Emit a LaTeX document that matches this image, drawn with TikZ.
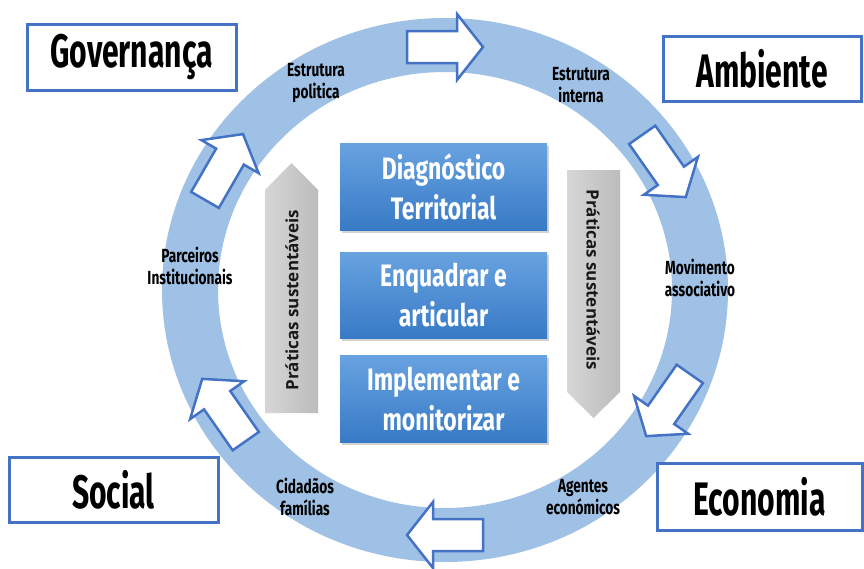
\documentclass[tikz,border=0pt]{standalone}
\usepackage{fontspec}
\setmainfont{Open Sans}
\newfontfamily\agencybig[FakeStretch=0.64]{Fira Sans}
\newfontfamily\agencymid[FakeStretch=0.74]{Fira Sans}
\newfontfamily\agencysmall[FakeStretch=0.72]{Fira Sans}
\newfontfamily\opensans{Open Sans}
\usetikzlibrary{shadows}
\definecolor{ringblue}{RGB}{160,193,230}
\definecolor{edgeblue}{RGB}{68,114,196}
\definecolor{steptop}{RGB}{104,163,224}
\definecolor{stepbot}{RGB}{56,122,198}
\definecolor{grayL}{RGB}{214,214,214}
\definecolor{grayR}{RGB}{188,188,188}
\tikzset{
 catbox/.style={draw=edgeblue, line width=3pt, fill=white, inner sep=0pt,
   font=\agencybig\bfseries\fontsize{47}{47}\selectfont},
 stepbox/.style={top color=steptop, bottom color=stepbot, draw=none, minimum width=207pt,
   text=white, align=center, inner sep=0pt,
   font=\agencymid\bfseries\fontsize{31}{40}\selectfont,
   drop shadow={opacity=0.35, shadow xshift=1.5pt, shadow yshift=-2.5pt}},
 ringlabel/.style={align=center, inner sep=0pt, font=\agencysmall\bfseries\fontsize{19}{22}\selectfont},
 flowarrow/.style={draw=edgeblue, line width=2.5pt, fill=white, line join=miter},
 grayarrow/.style={left color=grayL, right color=grayR, draw=none},
 graytext/.style={inner sep=0pt, text=black!90, font=\opensans\bfseries\fontsize{17}{17}\selectfont},
}
\newcommand\flowarr[2]{\draw[flowarrow, shift={#1}, rotate=#2]
  (-38,-16) -- (12,-16) -- (12,-33) -- (38,0) -- (12,33) -- (12,16) -- (-38,16) -- cycle;}
\begin{document}
\begin{tikzpicture}[x=1pt,y=-1pt]
\useasboundingbox (0,0) rectangle (864,568);
\fill[white] (0,0) rectangle (864,568);
% ring
\fill[ringblue, even odd rule] (445,290) ellipse [x radius=283pt, y radius=272pt]
  (445,290) ellipse [x radius=227pt, y radius=218pt];
% block arrows on the ring
\flowarr{(445,47)}{0}
\flowarr{(664,166)}{-55}
\flowarr{(668,405)}{-125}
\flowarr{(445,535)}{180}
\flowarr{(224,410)}{125}
\flowarr{(224,167)}{60}
% ring labels
\node[ringlabel] (ep) at (316,83) {Estrutura\\politica};
\node[ringlabel] (ei) at (581,85) {Estrutura\\interna};
\node[ringlabel] (ma) at (700,278) {Movimento\\associativo};
\node[ringlabel] (ae) at (583,497) {Agentes\\económicos};
\node[ringlabel] (cf) at (305,497) {Cidadãos\\famílias};
\node[ringlabel] (pi) at (190,266) {Parceiros\\Institucionais};
% category boxes
\node[catbox, minimum width=209pt, minimum height=66pt] (gov) at (131.5,57) {Governança};
\node[catbox, minimum width=198pt, minimum height=65pt] (amb) at (762,68.5) {Ambiente};
\node[catbox, minimum width=209pt, minimum height=65pt] (soc) at (113.5,489.5) {Social};
\node[catbox, minimum width=205pt, minimum height=67pt] (eco) at (759.5,496.5) {Economia};
% gray arrows
\path[grayarrow] (265,413) -- (265,190) -- (291.5,163) -- (318,190) -- (318,413) -- cycle;
\path[grayarrow] (567,170) -- (620,170) -- (620,392) -- (593.5,418) -- (567,392) -- cycle;
\node[graytext, rotate=90] (pl) at (292,300) {Práticas sustentáveis};
\node[graytext, rotate=-90] (pr) at (593,280) {Práticas sustentáveis};
% step boxes
\node[stepbox, minimum height=87pt] (s1) at (443.5,186.5) {Diagnóstico\\Territorial};
\node[stepbox, minimum height=86pt] (s2) at (443.5,295) {Enquadrar e\\articular};
\node[stepbox, minimum height=87pt] (s3) at (443.5,398.5) {Implementar e\\monitorizar};
\end{tikzpicture}
\end{document}
